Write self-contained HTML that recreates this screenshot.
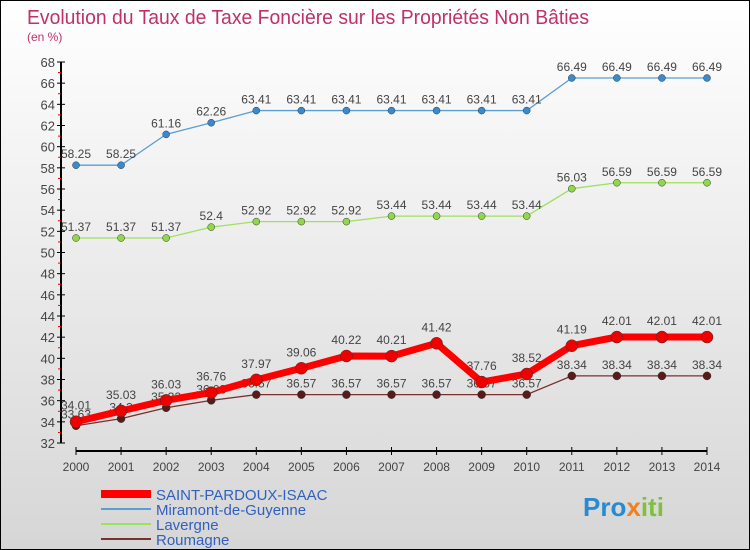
<!DOCTYPE html>
<html><head><meta charset="utf-8"><style>
body{margin:0}
#c{width:750px;height:550px;position:relative;overflow:hidden;background:linear-gradient(#ffffff,#d6d6d6);font-family:"Liberation Sans",sans-serif;box-sizing:border-box;border:1px solid #000}
</style></head><body>
<div id="c">
<svg id="s" width="750" height="550" style="position:absolute;left:0;top:0">
<text x="26" y="23" font-size="20" fill="#c0306a" textLength="562" lengthAdjust="spacingAndGlyphs">Evolution du Taux de Taxe Foncière sur les Propriétés Non Bâties</text>
<text x="26" y="40" font-size="12" fill="#c0306a">(en %)</text>
</svg>
</div>
<script>
const years=[2000,2001,2002,2003,2004,2005,2006,2007,2008,2009,2010,2011,2012,2013,2014];
const miramont=[58.25,58.25,61.16,62.26,63.41,63.41,63.41,63.41,63.41,63.41,63.41,66.49,66.49,66.49,66.49];
const lavergne=[51.37,51.37,51.37,52.4,52.92,52.92,52.92,53.44,53.44,53.44,53.44,56.03,56.59,56.59,56.59];
const saint=[34.01,35.03,36.03,36.76,37.97,39.06,40.22,40.21,41.42,37.76,38.52,41.19,42.01,42.01,42.01];
const roumagne=[33.63,34.3,35.33,36.03,36.57,36.57,36.57,36.57,36.57,36.57,36.57,38.34,38.34,38.34,38.34];
const yTicks=[32,34,36,38,40,42,44,46,48,50,52,54,56,58,60,62,64,66,68];
const NS='http://www.w3.org/2000/svg',s=document.getElementById('s');
const X=i=>75+i*(706-75)/14, Y=v=>442-(v-32)*(442-61)/36;
function el(t,a,p){const e=document.createElementNS(NS,t);for(const k in a)e.setAttribute(k,a[k]);(p||s).appendChild(e);return e;}
let ax=el('line',{x1:60,y1:61,x2:60,y2:442,stroke:'#000','stroke-width':2});


let xa=el('line',{x1:75,y1:450,x2:706,y2:450,stroke:'#000','stroke-width':2});


yTicks.forEach(v=>{el('line',{x1:56,y1:Y(v),x2:64,y2:Y(v),stroke:'#000'});
el('line',{x1:57,y1:Y(v+1),x2:60,y2:Y(v+1),stroke:v<68?'#e00':'none'});
let t=el('text',{x:54,y:Y(v)+5,'font-size':13,fill:'#444','text-anchor':'end'});t.textContent=v;

});
years.forEach((y,i)=>{el('line',{x1:X(i),y1:446,x2:X(i),y2:454,stroke:'#000'});
let t=el('text',{x:X(i),y:470,'font-size':12,fill:'#444','text-anchor':'middle'});t.textContent=y;

});
function series(d,color,dot,w,r,name,dy){
let p=el('polyline',{points:d.map((v,i)=>X(i)+','+Y(v)).join(' '),fill:'none',stroke:color,'stroke-width':w});


d.forEach((v,i)=>{let c=el('circle',{cx:X(i),cy:Y(v),r:r,fill:dot,stroke:'#333','stroke-width':0.5});


let t=el('text',{x:X(i),y:Y(v)+dy,'font-size':12,fill:'#444','text-anchor':'middle'});t.textContent=v;

});}
series(miramont,'#5a9fd4','#3a8ad0',1.3,3.5,'miramont',-7);
series(lavergne,'#9ee060','#8ed84a',1.3,3.5,'lavergne',-7);
series(roumagne,'#7a3030','#5a1a1a',1.3,4,'roumagne',-7);
series(saint,'#ff0000','#ee0000',7,6,'saint-pardoux',-12);
const leg=[['SAINT-PARDOUX-ISAAC','#ff0000',8],['Miramont-de-Guyenne','#5a9fd4',2],['Lavergne','#9ee060',2],['Roumagne','#7a3030',2]];
leg.forEach((l,i)=>{let y=493+i*15;
let g=el('g',{});
el('line',{x1:100,y1:y,x2:150,y2:y,stroke:l[1],'stroke-width':l[2]},g);
let t=el('text',{x:155,y:y+6,'font-size':15,fill:'#3060c0'},g);t.textContent=l[0];});
let lg=el('text',{x:582,y:515,'font-size':26,'font-weight':'bold',fill:'#2a8ad0'});


lg.innerHTML='Pro<tspan fill="#f08020">x</tspan><tspan fill="#80c040">iti</tspan>';
</script>
</body></html>
